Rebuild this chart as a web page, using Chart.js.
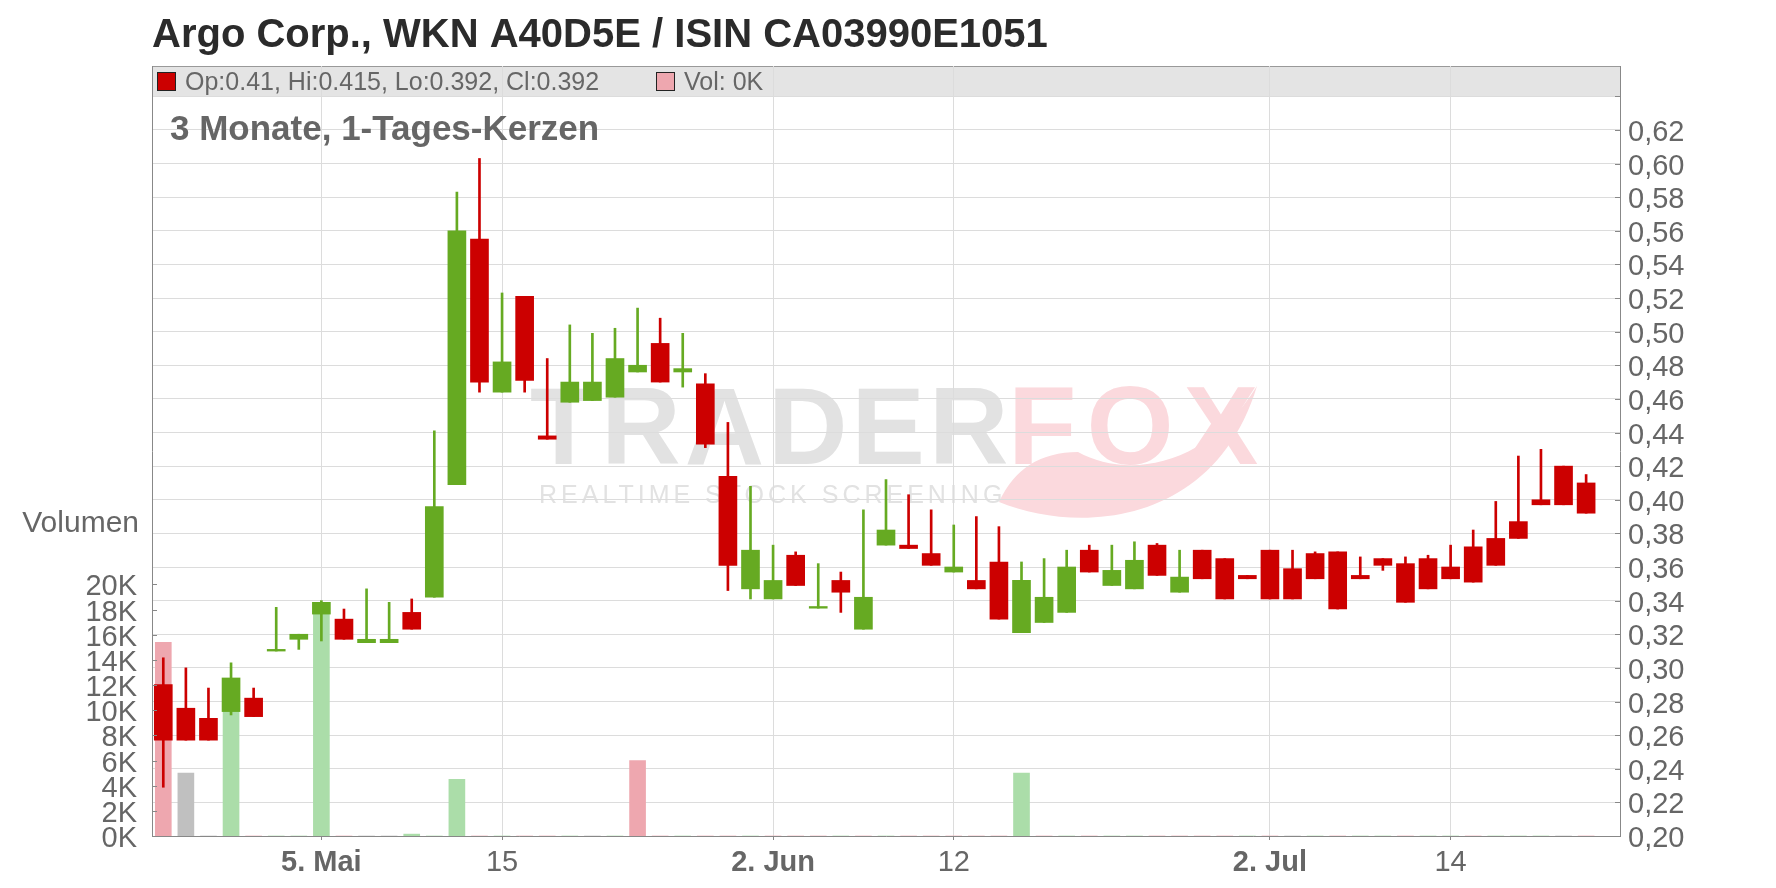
<!DOCTYPE html>
<html>
<head>
<meta charset="utf-8">
<script src="https://cdn.jsdelivr.net/npm/chart.js@4.4.1/dist/chart.umd.min.js"></script>
<style>
  html, body { margin: 0; padding: 0; background: #fff; }
</style>
</head>
<body>
<canvas id="chart" width="1776" height="888"></canvas>
<script>
// trading days (last slot is empty, the chart leaves room for the next day)
const days = [
  '24.04.', '25.04.', '28.04.', '29.04.', '30.04.',
  '01.05.', '02.05.', '05.05.', '06.05.', '07.05.', '08.05.', '09.05.',
  '12.05.', '13.05.', '14.05.', '15.05.', '16.05.', '19.05.', '20.05.',
  '21.05.', '22.05.', '23.05.', '26.05.', '27.05.', '28.05.', '29.05.', '30.05.',
  '02.06.', '03.06.', '04.06.', '05.06.', '06.06.', '09.06.', '10.06.',
  '11.06.', '12.06.', '13.06.', '16.06.', '17.06.', '18.06.', '19.06.', '20.06.',
  '23.06.', '24.06.', '25.06.', '26.06.', '27.06.', '30.06.',
  '01.07.', '02.07.', '03.07.', '04.07.', '07.07.', '08.07.', '09.07.', '10.07.',
  '11.07.', '14.07.', '15.07.', '16.07.', '17.07.', '18.07.', '21.07.', '22.07.', '23.07.'
];

const open = [
  0.290, 0.276, 0.270, 0.274, 0.282, 0.310, 0.317, 0.332, 0.329, 0.315,
  0.315, 0.333, 0.342, 0.409, 0.555, 0.464, 0.521, 0.438, 0.458, 0.459,
  0.461, 0.476, 0.493, 0.476, 0.469, 0.414, 0.347, 0.341, 0.367, 0.3355,
  0.352, 0.323, 0.373, 0.373, 0.368, 0.357, 0.352, 0.363, 0.321, 0.327,
  0.333, 0.370, 0.349, 0.347, 0.373, 0.345, 0.370, 0.365, 0.355, 0.370,
  0.359, 0.368, 0.369, 0.355, 0.365, 0.362, 0.365, 0.360, 0.372, 0.377,
  0.387, 0.400, 0.420, 0.410
];
const high = [
  0.306, 0.300, 0.288, 0.303, 0.288, 0.336, 0.320, 0.340, 0.335, 0.347,
  0.339, 0.341, 0.441, 0.583, 0.603, 0.523, 0.521, 0.484, 0.504, 0.499,
  0.502, 0.514, 0.508, 0.499, 0.475, 0.446, 0.408, 0.373, 0.369, 0.362,
  0.357, 0.394, 0.412, 0.403, 0.394, 0.385, 0.390, 0.384, 0.363, 0.365,
  0.370, 0.373, 0.373, 0.375, 0.374, 0.370, 0.370, 0.365, 0.355, 0.370,
  0.370, 0.369, 0.369, 0.366, 0.365, 0.366, 0.367, 0.373, 0.382, 0.399,
  0.426, 0.430, 0.420, 0.415
];
const low = [
  0.229, 0.257, 0.257, 0.272, 0.271, 0.310, 0.311, 0.316, 0.317, 0.315,
  0.315, 0.323, 0.342, 0.409, 0.464, 0.464, 0.464, 0.436, 0.458, 0.459,
  0.461, 0.476, 0.470, 0.467, 0.431, 0.346, 0.341, 0.341, 0.349, 0.3355,
  0.333, 0.323, 0.373, 0.371, 0.361, 0.357, 0.347, 0.329, 0.321, 0.327,
  0.333, 0.357, 0.349, 0.347, 0.355, 0.345, 0.353, 0.341, 0.353, 0.341,
  0.341, 0.353, 0.335, 0.353, 0.358, 0.339, 0.347, 0.353, 0.351, 0.361,
  0.377, 0.397, 0.397, 0.392
];
const close = [
  0.257, 0.257, 0.257, 0.294, 0.271, 0.311, 0.320, 0.339, 0.317, 0.317,
  0.317, 0.323, 0.396, 0.560, 0.470, 0.482, 0.471, 0.436, 0.470, 0.470,
  0.484, 0.480, 0.470, 0.478, 0.433, 0.361, 0.370, 0.352, 0.349, 0.3365,
  0.345, 0.342, 0.382, 0.371, 0.361, 0.360, 0.347, 0.329, 0.352, 0.342,
  0.360, 0.357, 0.358, 0.364, 0.355, 0.354, 0.353, 0.341, 0.353, 0.341,
  0.341, 0.353, 0.335, 0.353, 0.361, 0.339, 0.347, 0.353, 0.351, 0.361,
  0.377, 0.397, 0.397, 0.392
];
const volume = [
  15400, 5000, 0, 11000, 0, 0, 0, 18000, 0, 0,
  0, 150, 0, 4500, 0, 0, 0, 0, 0, 0,
  0, 6000, 0, 0, 0, 0, 0, 0, 0, 0,
  0, 0, 0, 0, 0, 0, 0, 0, 5000, 0,
  0, 0, 0, 0, 0, 0, 0, 0, 0, 0,
  0, 0, 0, 0, 0, 0, 0, 0, 0, 0,
  0, 0, 0, 0
];

const tickDates = ['05.05.', '15.05.', '02.06.', '12.06.', '02.07.', '14.07.'];
const tickTexts = ['5. Mai', '15', '2. Jun', '12', '2. Jul', '14'];
const priceTicks = [0.20, 0.22, 0.24, 0.26, 0.28, 0.30, 0.32, 0.34, 0.36, 0.38, 0.40,
  0.42, 0.44, 0.46, 0.48, 0.50, 0.52, 0.54, 0.56, 0.58, 0.60, 0.62, 0.64];
const volTicks = [0, 2000, 4000, 6000, 8000, 10000, 12000, 14000, 16000, 18000, 20000];

const RED = '#cc0000';
const GREEN = '#66aa22';
const FONT = '"Liberation Sans", Arial, sans-serif';

const candleColor = open.map((o, i) => close[i] < o ? RED : GREEN);
const volColor = close.map((c, i) => {
  const prev = i > 0 ? close[i - 1] : open[i];
  if (c > prev) return '#abdda9';
  if (c < prev) return '#eea7af';
  return '#c0c0c0';
});

function tickText(day) {
  const k = tickDates.indexOf(day);
  return k < 0 ? '' : tickTexts[k];
}

const decorations = {
  id: 'decorations',
  beforeDraw(chart) {
    const { ctx, chartArea: a } = chart;
    ctx.save();
    ctx.fillStyle = '#fff';
    ctx.fillRect(0, 0, chart.width, chart.height);

    // header band
    ctx.fillStyle = '#e4e4e4';
    ctx.fillRect(a.left, a.top, a.right - a.left, 30);
    ctx.strokeStyle = '#999';
    ctx.lineWidth = 1;
    ctx.beginPath();
    ctx.moveTo(a.left, a.top + 0.5);
    ctx.lineTo(a.right, a.top + 0.5);
    ctx.stroke();

    // watermark
    ctx.textBaseline = 'alphabetic';
    ctx.font = 'bold 110px ' + FONT;
    ctx.letterSpacing = '4px';
    ctx.fillStyle = '#e2e2e2';
    ctx.fillText('TRADER', 530, 464);
    ctx.font = 'bold 112px ' + FONT;
    ctx.letterSpacing = '10px';
    ctx.fillStyle = '#fbd9dd';
    ctx.fillText('FOX', 1008, 464);

    // fox tail
    ctx.beginPath();
    ctx.moveTo(999, 502);
    ctx.bezierCurveTo(1080, 535, 1215, 525, 1257, 386);
    ctx.bezierCurveTo(1205, 470, 1125, 478, 1078, 452);
    ctx.quadraticCurveTo(1022, 452, 999, 502);
    ctx.fill();

    ctx.font = '25px ' + FONT;
    ctx.letterSpacing = '4px';
    ctx.fillStyle = '#e2e2e2';
    ctx.fillText('REALTIME STOCK SCREENING', 539, 503);
    ctx.restore();
  },
  afterDraw(chart) {
    const { ctx, chartArea: a } = chart;
    const n = close.length - 1;
    ctx.save();
    ctx.textBaseline = 'alphabetic';

    // small inward ticks on both value axes
    ctx.strokeStyle = '#888';
    ctx.lineWidth = 1;
    const vs = chart.scales.vol, ps = chart.scales.price;
    ctx.beginPath();
    vs.ticks.forEach(t => {
      const y = Math.round(vs.getPixelForValue(t.value)) + 0.5;
      ctx.moveTo(a.left, y); ctx.lineTo(a.left + 5, y);
    });
    ps.ticks.forEach(t => {
      const y = Math.round(ps.getPixelForValue(t.value)) + 0.5;
      ctx.moveTo(a.right - 5, y); ctx.lineTo(a.right, y);
    });
    ctx.stroke();

    // title
    ctx.fillStyle = '#2b2b2b';
    ctx.font = 'bold 40px ' + FONT;
    ctx.fillText('Argo Corp., WKN A40D5E / ISIN CA03990E1051', 152, 47);

    // legend in the header band
    ctx.lineWidth = 1;
    ctx.strokeStyle = '#222';
    ctx.fillStyle = RED;
    ctx.fillRect(157.5, 72.5, 18, 18);
    ctx.strokeRect(157.5, 72.5, 18, 18);
    ctx.fillStyle = '#eea7af';
    ctx.fillRect(656.5, 72.5, 18, 18);
    ctx.strokeRect(656.5, 72.5, 18, 18);
    ctx.fillStyle = '#666';
    ctx.font = '25px ' + FONT;
    ctx.fillText('Op:' + open[n] + ', Hi:' + high[n] + ', Lo:' + low[n] + ', Cl:' + close[n], 185, 90);
    ctx.fillText('Vol: ' + Math.round(volume[n] / 1000) + 'K', 684, 90);

    // subtitle
    ctx.font = 'bold 35px ' + FONT;
    ctx.fillText('3 Monate, 1-Tages-Kerzen', 170, 140);

    // volume axis name
    ctx.font = '30px ' + FONT;
    ctx.textAlign = 'right';
    ctx.fillText('Volumen', 139, 532);
    ctx.restore();
  }
};

new Chart(document.getElementById('chart').getContext('2d'), {
  type: 'bar',
  data: {
    labels: days,
    datasets: [
      {
        label: 'Volumen',
        yAxisID: 'vol',
        data: volume,
        backgroundColor: volColor,
        barThickness: 16,
        grouped: false,
        order: 3
      },
      {
        label: 'Docht',
        yAxisID: 'price',
        data: low.map((l, i) => [l, high[i]]),
        backgroundColor: candleColor,
        barThickness: 2,
        grouped: false,
        order: 2
      },
      {
        label: 'Kerze',
        yAxisID: 'price',
        data: open.map((o, i) => [Math.min(o, close[i]), Math.max(o, close[i])]),
        backgroundColor: candleColor,
        barThickness: 18,
        minBarLength: 1,
        grouped: false,
        order: 1
      }
    ]
  },
  options: {
    responsive: false,
    animation: false,
    devicePixelRatio: 1,
    layout: { padding: { top: 66, left: 0, right: 0, bottom: 0 } },
    plugins: { legend: { display: false }, tooltip: { enabled: false } },
    scales: {
      x: {
        type: 'category',
        offset: true,
        grid: {
          offset: false,
          color: c => tickText(days[c.index]) ? '#dcdcdc' : 'transparent',
          tickColor: c => tickText(days[c.index]) ? '#888' : 'transparent',
          tickLength: 4
        },
        border: { color: '#888' },
        ticks: {
          autoSkip: false,
          maxRotation: 0,
          padding: 6,
          color: '#666',
          font: c => ({ family: FONT, size: 29, weight: tickText(days[c.index]).includes('.') ? 'bold' : 'normal' }),
          callback: (v, i) => tickText(days[i])
        },
        afterFit: s => { s.height = 52; }
      },
      vol: {
        position: 'left',
        min: 0,
        max: 61200,
        grid: { display: false },
        border: { color: '#888' },
        afterBuildTicks: s => { s.ticks = volTicks.map(v => ({ value: v })); },
        ticks: {
          autoSkip: false,
          padding: 7,
          labelOffset: 3,
          color: '#666',
          font: { family: FONT, size: 29 },
          callback: v => (v / 1000) + 'K'
        },
        afterFit: s => { s.width = 152; }
      },
      price: {
        position: 'right',
        min: 0.20,
        max: 0.658,
        grid: { color: '#dcdcdc', drawTicks: false },
        border: { color: '#888' },
        afterBuildTicks: s => { s.ticks = priceTicks.map(v => ({ value: v })); },
        ticks: {
          autoSkip: false,
          padding: 8,
          labelOffset: 3,
          color: '#666',
          font: { family: FONT, size: 29 },
          callback: v => v > 0.625 ? '' : v.toFixed(2).replace('.', ',')
        },
        afterFit: s => { s.width = 156; }
      }
    }
  },
  plugins: [decorations]
});
</script>
</body>
</html>
